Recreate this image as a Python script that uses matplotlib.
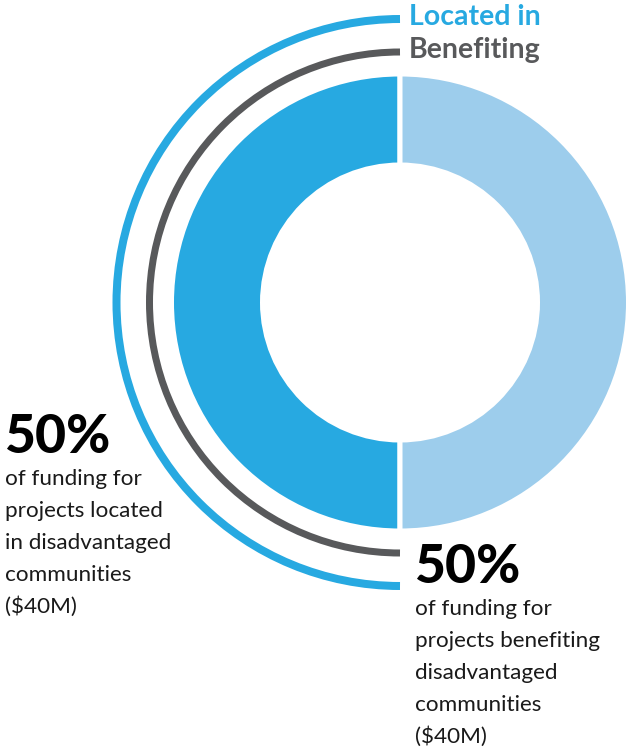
import matplotlib.pyplot as plt
from matplotlib.patches import Arc

# funding split, percent of the $80M total
labels = ["Located in", "Benefiting"]
located_share = [50, 50]
benefiting_share = [50, 50]
amounts = ["$40M", "$40M"]

blue = "#27a9e1"
light_blue = "#9dcdec"
grey = "#58595b"
ink = "#1a1a1a"

W, H = 626, 750
plt.rcParams["font.family"] = ["Lato", "DejaVu Sans"]

fig = plt.figure(figsize=(W / 100, H / 100), dpi=100)
ax = fig.add_axes([0, 0, 1, 1])

def Y(y):
    # page coordinates measured from the top
    return H - y

cx, cy = 400, Y(302.5)
gap = 5  # white seam between the halves

ax.pie(located_share, colors=[blue, light_blue], startangle=90,
       counterclock=True, center=(cx, cy), radius=226 + gap / 2,
       wedgeprops=dict(width=86 + gap, edgecolor="white", linewidth=gap * 0.72))
ax.set_xlim(0, W)
ax.set_ylim(0, H)
ax.set_aspect("equal")
ax.axis("off")

# outer half rings for the two categories
ax.add_patch(Arc((cx, cy), 2 * 283.5, 2 * 283.5, theta1=90, theta2=270,
                 color=blue, lw=8 * 0.72))
ax.add_patch(Arc((cx, cy), 2 * 250.5, 2 * 250.5, theta1=90, theta2=270,
                 color=grey, lw=7 * 0.72))

ax.text(409, Y(25), labels[0], color=blue, fontsize=20.5, fontweight="bold",
        va="baseline", ha="left")
ax.text(409, Y(58), labels[1], color=grey, fontsize=20.5, fontweight="bold",
        va="baseline", ha="left")

def callout(x, y, pct, lines):
    ax.text(x, Y(y), f"{pct}%", color="black", fontsize=38.5, fontweight="black",
            va="baseline", ha="left")
    for i, line in enumerate(lines):
        ax.text(x + 1, Y(y + 32 + 32 * i), line, color=ink, fontsize=16.2,
                va="baseline", ha="left")

callout(4, 453, located_share[0],
        ["of funding for", "projects located", "in disadvantaged",
         "communities", f"({amounts[0]})"])
callout(414, 583, benefiting_share[1],
        ["of funding for", "projects benefiting", "disadvantaged",
         "communities", f"({amounts[1]})"])

fig.savefig("out.png", dpi=100, facecolor="white")
